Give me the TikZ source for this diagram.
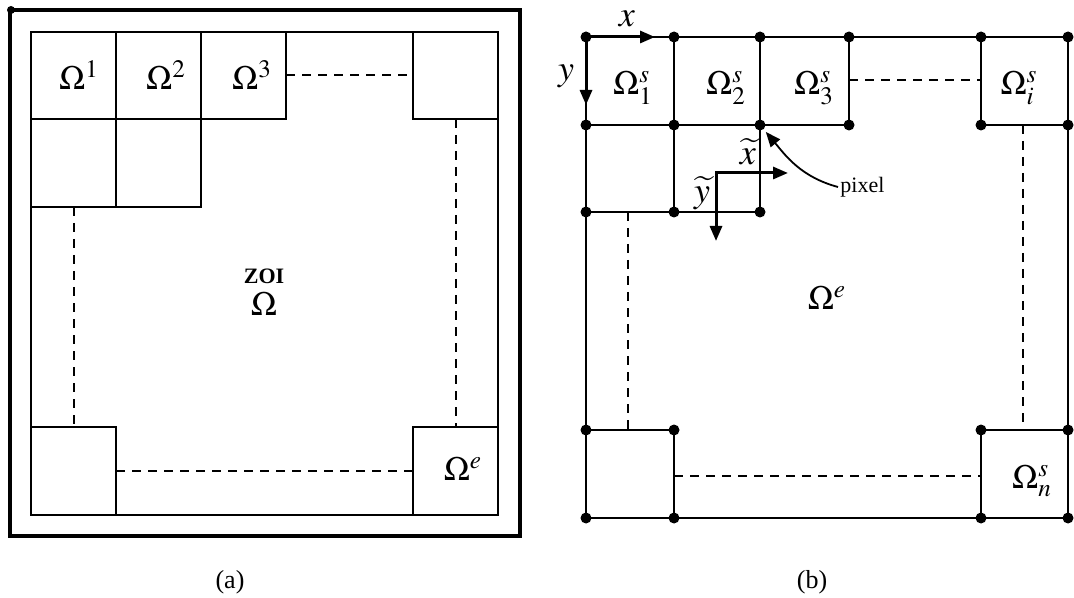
\documentclass[tikz,border=0pt]{standalone}
\usepackage{mathptmx}
\usepackage{fontspec}
\setmainfont{Liberation Serif}
\usetikzlibrary{arrows.meta}
\tikzset{
    >={Triangle[length=7.5pt,width=6pt]},
    % Lines
    cell/.style={draw, line width=0.9pt},
    gap/.style={line width=0.9pt, dash pattern=on 4.5pt off 3.5pt},
    frame/.style={line width=2.3pt},
    axis/.style={->, line width=1.5pt},
    % Marks and labels
    dot/.style={circle, fill, inner sep=0pt, minimum size=5.5pt},
    omega/.style={font=\fontsize{17}{20}\selectfont, inner sep=1pt},
    axlbl/.style={font=\fontsize{18}{21}\selectfont, inner sep=0pt},
    zoi/.style={font=\fontsize{11}{13}\selectfont\bfseries},
    small/.style={font=\fontsize{11}{13}\selectfont, inner sep=1pt},
    caption/.style={font=\fontsize{13}{15}\selectfont}
}

\begin{document}
\begin{tikzpicture}[x=0.5pt, y=-0.5pt]
\useasboundingbox (0,0) rectangle (1074,598);

% ---------- (a) ----------
\draw[frame] (10,10) rectangle (520,536);
\node[dot, minimum size=4pt] (corner) at (11,10) {};
\foreach \xa/\ya/\xb/\yb in {31/32/116/119, 116/32/201/119, 201/32/286/119,
                             31/119/116/207, 116/119/201/207, 413/32/498/119,
                             31/427/116/515, 413/427/498/515}
    \draw[cell] (\xa,\ya) rectangle (\xb,\yb);
\draw[cell] (286,32) -- (413,32);
\draw[cell] (31,207) -- (31,427);
\draw[cell] (498,119) -- (498,427);
\draw[cell] (116,515) -- (413,515);
\draw[gap] (286,75) -- (413,75);
\draw[gap] (74,207) -- (74,427);
\draw[gap] (456,119) -- (456,427);
\draw[gap] (116,471) -- (413,471);

\node[omega] (om1) at (79,75) {$\Omega^{1}$};
\node[omega] (om2) at (166,75) {$\Omega^{2}$};
\node[omega] (om3) at (252,75) {$\Omega^{3}$};
\node[zoi] (zoi) at (264,276) {ZOI};
\node[omega] (om) at (264,304) {$\Omega$};
\node[omega] (omeA) at (463,469) {$\Omega^{e}$};
\node[caption] (capA) at (230,582) {(a)};

% ---------- (b) ----------
\coordinate (o) at (586,37);
\coordinate (pixpt) at (760,125);
\draw[cell] (586,37) -- (1068,37);
\draw[cell] (586,37) -- (586,518) -- (1068,518) -- (1068,37);
\draw[cell] (674,37) -- (674,212);
\draw[cell] (760,37) -- (760,212);
\draw[cell] (849,37) -- (849,125);
\draw[cell] (981,37) -- (981,125);
\draw[cell] (586,125) -- (849,125);
\draw[cell] (981,125) -- (1068,125);
\draw[cell] (586,212) -- (760,212);
\draw[cell] (586,430) -- (674,430) -- (674,518);
\draw[cell] (1068,430) -- (981,430) -- (981,518);
\draw[gap] (849,80) -- (981,80);
\draw[gap] (628,212) -- (628,430);
\draw[gap] (1023,125) -- (1023,430);
\draw[gap] (674,476) -- (981,476);

\foreach \px/\py in {586/37, 674/37, 760/37, 849/37, 981/37, 1068/37,
                     586/125, 674/125, 760/125, 849/125, 981/125, 1068/125,
                     586/212, 674/212, 760/212,
                     586/430, 674/430, 981/430, 1068/430,
                     586/518, 674/518, 981/518, 1068/518}
    \node[dot] at (\px,\py) {};

% axes
\coordinate (xend) at (655,37);
\coordinate (yend) at (586,105);
\draw[axis] (o) -- (xend);
\draw[axis] (o) -- (yend);
\node[axlbl] (xl) at (627,19) {$x$};
\node[axlbl] (yl) at (566,76) {$y$};

\coordinate (lo) at (716,173);
\coordinate (lxend) at (788,173);
\coordinate (lyend) at (716,241);
\draw[axis] (715.3,173) -- (lxend);
\draw[axis] (716,172.3) -- (lyend);
\node[axlbl] (lxl) at (748,152) {$\widetilde{x}$};
\node[axlbl] (lyl) at (702,193) {$\widetilde{y}$};

\node[small, anchor=west] (pix) at (838,187) {pixel};
\draw[->, line width=0.9pt, shorten >=4.5pt] (pix.west) to[out=165, in=-50] (pixpt);

\node[omega] (om1s) at (633,88) {$\Omega^{s}_{1}$};
\node[omega] (om2s) at (726,88) {$\Omega^{s}_{2}$};
\node[omega] (om3s) at (814,88) {$\Omega^{s}_{3}$};
\node[omega] (omis) at (1019,88) {$\Omega^{s}_{i}$};
\node[omega] (omeB) at (827,298) {$\Omega^{e}$};
\node[omega] (omns) at (1032,481) {$\Omega^{s}_{n}$};
\node[caption] (capB) at (812,582) {(b)};

\end{tikzpicture}
\end{document}
